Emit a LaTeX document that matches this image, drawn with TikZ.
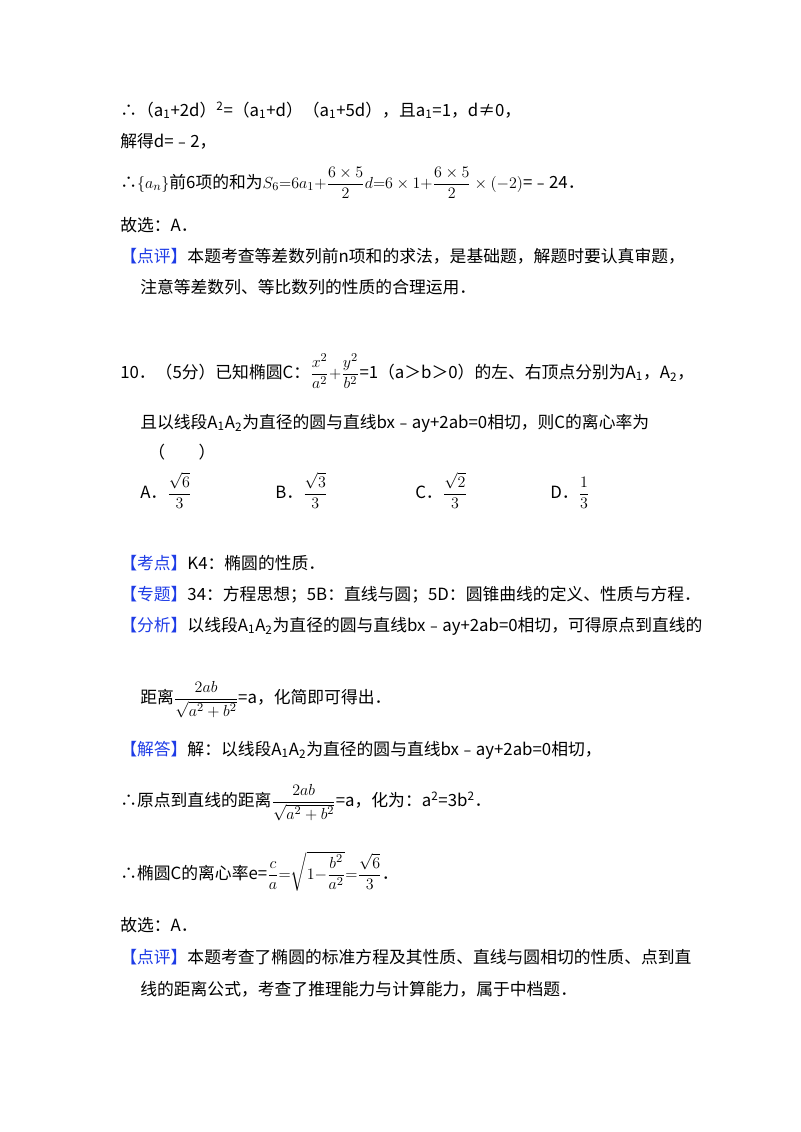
\documentclass[tikz,border=0pt]{standalone}
\usepackage{amsmath}
\usepackage{fontspec}
\setmainfont{Noto Sans CJK SC}
\definecolor{kb}{RGB}{30,60,230}
\newcommand{\kw}[1]{\textcolor{kb}{【#1】}}
\begin{document}
\begin{tikzpicture}[x=0.75pt,y=-0.75pt,every node/.style={anchor=base west,inner sep=0pt,font=\fontsize{12.6}{15}\selectfont}]
\useasboundingbox (0,0) rectangle (800,1132);
\node (l1) at (120,116) {∴（a\textsubscript{1}+2d）\textsuperscript{2}=（a\textsubscript{1}+d）（a\textsubscript{1}+5d），且a\textsubscript{1}=1，d≠0，};
\node (l2) at (120,147) {解得d=﹣2，};
\node (l3) at (120,188) {∴$\{a_n\}$前6项的和为$S_6{=}6a_1{+}\dfrac{6\times5}{2}d{=}6\times1{+}\dfrac{6\times5}{2}\times(-2)$=﹣24．};
\node (l4) at (120,231) {故选：A．};
\node (l5) at (120,262) {\kw{点评}本题考查等差数列前n项和的求法，是基础题，解题时要认真审题，};
\node (l6) at (140,293) {注意等差数列、等比数列的性质的合理运用．};
\node (l7) at (120,378) {10．（5分）已知椭圆C：$\dfrac{x^2}{a^2}{+}\dfrac{y^2}{b^2}$=1（a＞b＞0）的左、右顶点分别为A\textsubscript{1}，A\textsubscript{2}，};
\node (l8) at (140,428) {且以线段A\textsubscript{1}A\textsubscript{2}为直径的圆与直线bx﹣ay+2ab=0相切，则C的离心率为};
\node (l9) at (148,458) {（\quad\quad）};
\node (oa) at (140,498) {A．$\dfrac{\sqrt6}{3}$};
\node (ob) at (275,498) {B．$\dfrac{\sqrt3}{3}$};
\node (oc) at (415,498) {C．$\dfrac{\sqrt2}{3}$};
\node (od) at (550,498) {D．$\dfrac{1}{3}$};
\node (l11) at (120,569) {\kw{考点}K4：椭圆的性质．};
\node (l12) at (120,600) {\kw{专题}34：方程思想；5B：直线与圆；5D：圆锥曲线的定义、性质与方程．};
\node (l13) at (120,631) {\kw{分析}以线段A\textsubscript{1}A\textsubscript{2}为直径的圆与直线bx﹣ay+2ab=0相切，可得原点到直线的};
\node (l14) at (140,703) {距离$\dfrac{2ab}{\sqrt{a^2+b^2}}$=a，化简即可得出．};
\node (l15) at (120,755) {\kw{解答}解：以线段A\textsubscript{1}A\textsubscript{2}为直径的圆与直线bx﹣ay+2ab=0相切，};
\node (l16) at (120,806) {∴原点到直线的距离$\dfrac{2ab}{\sqrt{a^2+b^2}}$=a，化为：a\textsuperscript{2}=3b\textsuperscript{2}．};
\node (l17) at (120,879) {∴椭圆C的离心率e=$\dfrac{c}{a}{=}\sqrt{1{-}\dfrac{b^2}{a^2}}{=}\dfrac{\sqrt6}{3}$．};
\node (l18) at (120,931) {故选：A．};
\node (l19) at (120,963) {\kw{点评}本题考查了椭圆的标准方程及其性质、直线与圆相切的性质、点到直};
\node (l20) at (140,995) {线的距离公式，考查了推理能力与计算能力，属于中档题．};
\end{tikzpicture}
\end{document}
